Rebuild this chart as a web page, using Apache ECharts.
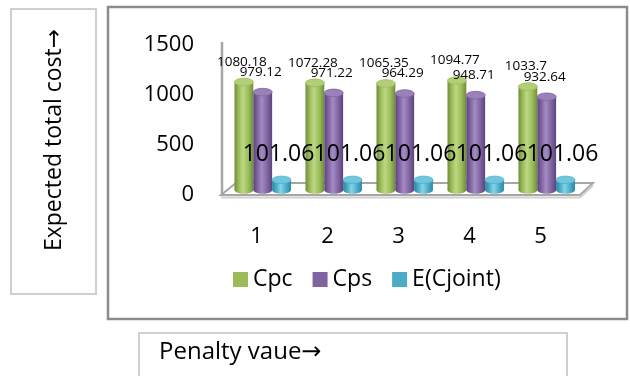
<!DOCTYPE html>
<html>
<head>
<meta charset="utf-8">
<script src="https://cdn.jsdelivr.net/npm/echarts@6/dist/echarts.min.js"></script>
<style>
  html, body { margin: 0; padding: 0; background: #fff; }
  #chart { width: 630px; height: 376px; }
</style>
</head>
<body>
<div id="chart"></div>
<script>
// Penalty values on the x axis
const categories = ['1', '2', '3', '4', '5'];
// Expected total cost per series
const cpc = [1080.18, 1072.28, 1065.35, 1094.77, 1033.7];
const cps = [979.12, 971.22, 964.29, 948.71, 932.64];
const eJoint = [101.06, 101.06, 101.06, 101.06, 101.06];
// Value axis ticks
const yTicks = { min: 0, max: 1500, interval: 500 };

const FONT = '"Open Sans", "DejaVu Sans", sans-serif';

// Cylinder shading per series: edge, body, highlight, cap
const palettes = {
  Cpc: { dark: '#6f8c36', base: '#9bbb59', light: '#bcd884', cap: '#b2cf78' },
  Cps: { dark: '#5a4479', base: '#8064a2', light: '#a38bc2', cap: '#9a82b9' },
  'E(Cjoint)': { dark: '#2a87a1', base: '#4bacc6', light: '#86d3e8', cap: '#6fc6de' }
};

// Label look per series
const labelCfg = {
  Cpc: { size: 13.5, gap: 20, shift: -2 },
  Cps: { size: 13.5, gap: 20, shift: -2 },
  'E(Cjoint)': { size: 23, gap: 25, shift: -3 }
};

const DEPTH_Y = -5;  // bars stand half-way back on the floor

function cylinderRenderer(name, slot) {
  const pal = palettes[name];
  const lab = labelCfg[name];
  return function (params, api) {
    const idx = api.value(0);
    const val = api.value(1);
    const band = api.size([1, 0])[0];
    const base = api.coord([idx, 0]);
    const top = api.coord([idx, val]);
    const w = band * 0.265;
    const x0 = base[0] - band / 2 + band * 0.19 + slot * w;
    const cx = x0 + w / 2;
    const rx = w / 2;
    const ry = w * 0.2;
    const yb = base[1] + DEPTH_Y;
    const yt = top[1] + DEPTH_Y;
    const grad = new echarts.graphic.LinearGradient(0, 0, 1, 0, [
      { offset: 0, color: pal.dark },
      { offset: 0.22, color: pal.base },
      { offset: 0.45, color: pal.light },
      { offset: 0.75, color: pal.base },
      { offset: 1, color: pal.dark }
    ]);
    return {
      type: 'group',
      children: [
        { type: 'ellipse', shape: { cx: cx, cy: yb, rx: rx, ry: ry }, style: { fill: grad } },
        { type: 'rect', shape: { x: x0, y: yt, width: w, height: yb - yt }, style: { fill: grad } },
        { type: 'ellipse', shape: { cx: cx, cy: yt, rx: rx, ry: ry },
          style: { fill: pal.cap, stroke: pal.base, lineWidth: 0.8 } },
        { type: 'text', x: cx + lab.shift, y: yt - lab.gap,
          style: { text: String(val), fill: '#000', font: lab.size + 'px ' + FONT,
                   align: 'center', verticalAlign: 'middle' }, z2: 10 }
      ]
    };
  };
}

// Floor slab and the vertical back edge of the value axis
function floorRenderer(params, api) {
  const cs = params.coordSys;
  const x0 = cs.x;
  const x1 = cs.x + cs.width + 4;
  const y0 = cs.y + cs.height;
  const dx = 13, dy = -12;
  return {
    type: 'group',
    children: [
      { type: 'polygon',
        shape: { points: [[x0, y0], [x1, y0], [x1 + dx, y0 + dy], [x0 + dx + 2, y0 + dy]] },
        style: { fill: '#ffffff', stroke: '#a6a6a6', lineWidth: 2 } },
      { type: 'polyline', shape: { points: [[x0, y0 + 2.5], [x1, y0 + 2.5], [x1 + dx, y0 + dy + 2.5]] },
        style: { fill: null, stroke: '#d0d0d0', lineWidth: 2 } },
      { type: 'line', shape: { x1: x0 + 1, y1: cs.y - 3, x2: x0 + 1, y2: y0 },
        style: { stroke: '#a6a6a6', lineWidth: 2.5 } }
    ]
  };
}

const seriesDefs = [
  { name: 'Cpc', values: cpc },
  { name: 'Cps', values: cps },
  { name: 'E(Cjoint)', values: eJoint }
];

const chart = echarts.init(document.getElementById('chart'), null, { renderer: 'canvas' });

chart.setOption({
  backgroundColor: '#ffffff',
  animation: false,
  textStyle: { fontFamily: FONT },
  grid: { left: 221, right: 54, top: 45, bottom: 181, containLabel: false },
  xAxis: {
    type: 'category',
    data: categories,
    axisLine: { show: false },
    axisTick: { show: false },
    axisLabel: { color: '#000', fontSize: 22, margin: 31, fontFamily: FONT }
  },
  yAxis: {
    type: 'value',
    min: yTicks.min,
    max: yTicks.max,
    interval: yTicks.interval,
    axisLine: { show: false },
    axisTick: { show: false },
    splitLine: { show: false },
    axisLabel: { color: '#000', fontSize: 22, margin: 27, fontFamily: FONT,
                 formatter: v => String(v) }
  },
  legend: {
    data: seriesDefs.map(s => s.name),
    left: 233,
    top: 268,
    padding: 0,
    itemWidth: 15,
    itemHeight: 15,
    itemGap: 20,
    icon: 'rect',
    textStyle: { color: '#000', fontSize: 23, fontFamily: FONT }
  },
  graphic: [
    // outer chart frame
    { type: 'rect', shape: { x: 108, y: 7, width: 519, height: 312 },
      style: { fill: null, stroke: '#8c8c8c', lineWidth: 2.5 }, z: 0 },
    // value-axis title box
    { type: 'rect', shape: { x: 11, y: 9, width: 85, height: 285 },
      style: { fill: null, stroke: '#cfcfcf', lineWidth: 2 } },
    { type: 'text', x: 54, y: 140, rotation: Math.PI / 2,
      style: { text: 'Expected total cost\u2192', fill: '#000', font: '23px ' + FONT,
               align: 'center', verticalAlign: 'middle' } },
    // category-axis title box
    { type: 'rect', shape: { x: 139, y: 333, width: 428, height: 60 },
      style: { fill: null, stroke: '#cfcfcf', lineWidth: 2 } },
    { type: 'text', x: 159, y: 352,
      style: { text: 'Penalty vaue\u2192', fill: '#000', font: '24px ' + FONT,
               align: 'left', verticalAlign: 'middle' } }
  ],
  series: [
    { type: 'custom', name: '_floor', silent: true, z: 1, clip: false,
      data: [[0, 0]], renderItem: floorRenderer }
  ].concat(seriesDefs.map((s, i) => ({
    type: 'custom',
    name: s.name,
    z: 2,
    clip: false,
    itemStyle: { color: palettes[s.name].base },
    encode: { x: 0, y: 1 },
    data: s.values.map((v, j) => [j, v]),
    renderItem: cylinderRenderer(s.name, i)
  })))
});
</script>
</body>
</html>
